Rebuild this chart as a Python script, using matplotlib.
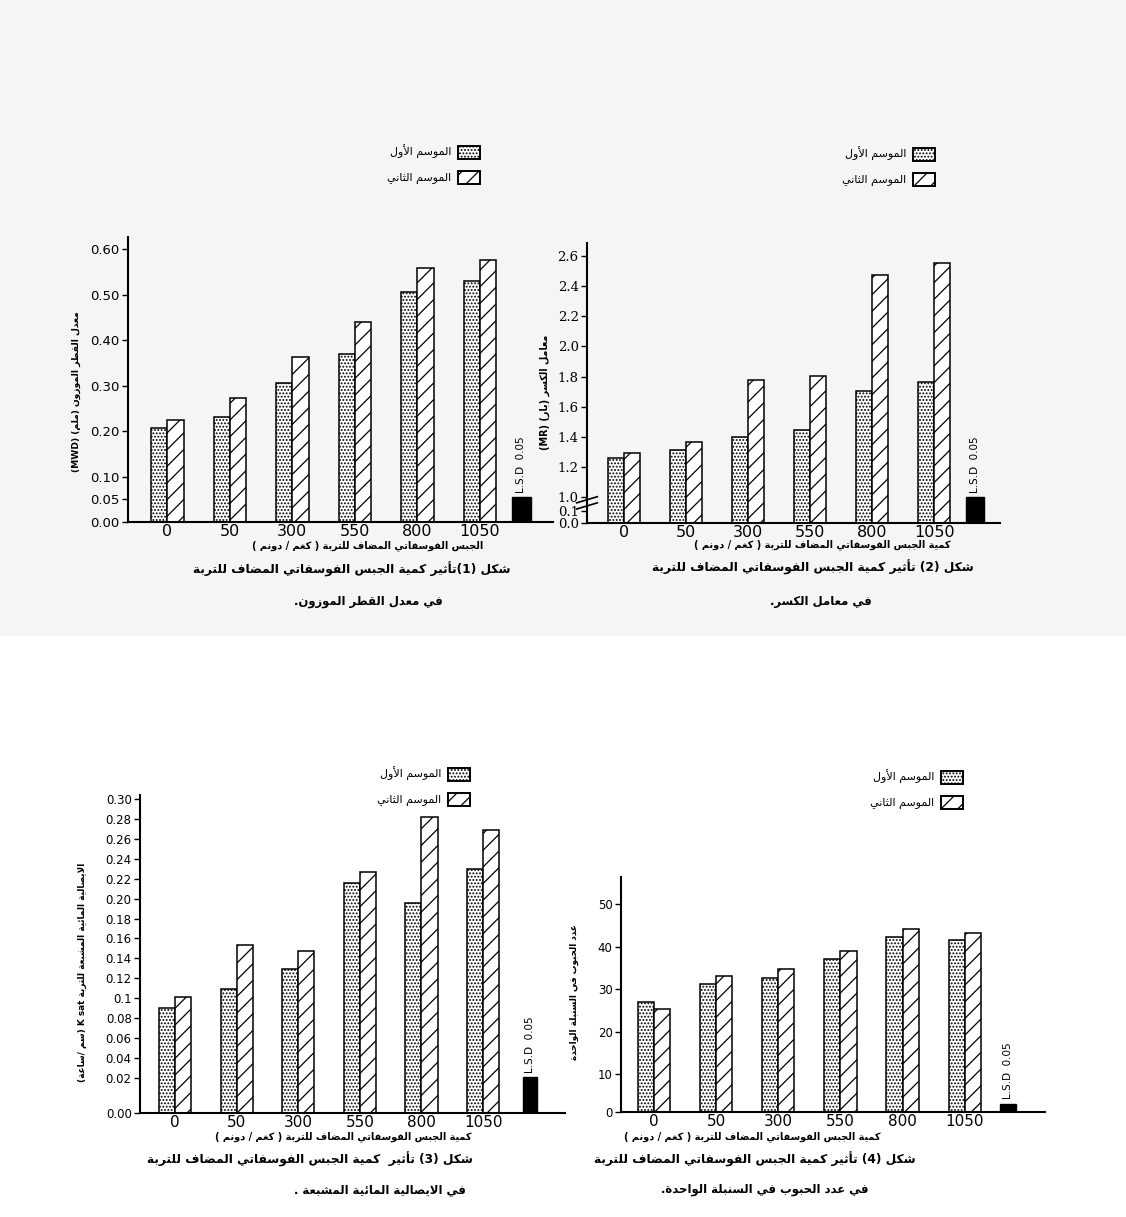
import re
import numpy as np
import matplotlib
matplotlib.use('Agg')
import matplotlib.pyplot as plt
from matplotlib.patches import Patch, Rectangle

# ---- data ----
doses = ['0', '50', '300', '550', '800', '1050']

mwd_s1 = [0.207, 0.230, 0.305, 0.370, 0.505, 0.531]
mwd_s2 = [0.224, 0.272, 0.364, 0.440, 0.558, 0.576]
mwd_lsd = 0.055

mr_s1 = [1.26, 1.315, 1.40, 1.448, 1.705, 1.765]
mr_s2 = [1.29, 1.362, 1.776, 1.805, 2.474, 2.552]
mr_lsd = 1.0

ksat_s1 = [0.090, 0.109, 0.129, 0.216, 0.196, 0.230]
ksat_s2 = [0.101, 0.153, 0.147, 0.227, 0.282, 0.269]
ksat_lsd = 0.021

grains_s1 = [26.9, 31.3, 32.7, 37.1, 42.4, 41.5]
grains_s2 = [25.3, 33.2, 34.8, 39.0, 44.1, 43.2]
grains_lsd = 2.2

# ---- small arabic shaper (matplotlib has no bidi / joining) ----
_seq = [('ء', 1), ('آ', 2), ('أ', 2), ('ؤ', 2), ('إ', 2), ('ئ', 4), ('ا', 2), ('ب', 4),
        ('ة', 2), ('ت', 4), ('ث', 4), ('ج', 4), ('ح', 4), ('خ', 4), ('د', 2), ('ذ', 2),
        ('ر', 2), ('ز', 2), ('س', 4), ('ش', 4), ('ص', 4), ('ض', 4), ('ط', 4), ('ظ', 4),
        ('ع', 4), ('غ', 4), ('ف', 4), ('ق', 4), ('ك', 4), ('ل', 4), ('م', 4), ('ن', 4),
        ('ه', 4), ('و', 2), ('ى', 2), ('ي', 4)]
FORMS = {}
code = 0xFE80
for ch, n in _seq:
    FORMS[ch] = [chr(code + k) for k in range(n)]
    code += n
LAM_ALEF = {'آ': 0xFEF5, 'أ': 0xFEF7, 'إ': 0xFEF9, 'ا': 0xFEFB}
MIRROR = {'(': ')', ')': '('}


def shape(text):
    dual = lambda c: c in FORMS and len(FORMS[c]) == 4
    joins = lambda c: c in FORMS and len(FORMS[c]) >= 2
    out, i, prev = [], 0, False
    while i < len(text):
        c = text[i]
        nxt = text[i + 1] if i + 1 < len(text) else ''
        if c not in FORMS:
            out.append(c)
            prev = False
            i += 1
            continue
        if c == 'ل' and nxt in LAM_ALEF:
            out.append(chr(LAM_ALEF[nxt] + (1 if prev else 0)))
            prev = False
            i += 2
            continue
        f = FORMS[c]
        to_next = dual(c) and joins(nxt)
        if len(f) == 1:
            g = f[0]
        elif prev and to_next:
            g = f[3]
        elif prev:
            g = f[1]
        elif to_next:
            g = f[2]
        else:
            g = f[0]
        out.append(g)
        prev = dual(c)
        i += 1
    return ''.join(out)


def ar(text):
    s = shape(text)
    parts = re.findall(r'[A-Za-z0-9]+(?:[ .][A-Za-z0-9]+)*|[^A-Za-z0-9]+', s)
    out = []
    for p in reversed(parts):
        if re.match(r'[A-Za-z0-9]', p):
            out.append(p)
        else:
            out.append(''.join(MIRROR.get(c, c) for c in reversed(p)))
    return ''.join(out)


# ---- figure ----
W, H = 1126, 1217
fig = plt.figure(figsize=(W / 100, H / 100), dpi=100, facecolor='white')
fig.patches.append(Rectangle((0, 1 - 636 / H), 1, 636 / H, transform=fig.transFigure,
                             facecolor='#f5f5f5', edgecolor='none', zorder=-10))
plt.rcParams['hatch.linewidth'] = 0.9


def box(l, t, r, b):
    return [l / W, 1 - b / H, (r - l) / W, (b - t) / H]


def piecewise(ax, d, s):
    d = np.asarray(d, float)
    s = np.asarray(s, float)

    def make(a, b):
        def f(y):
            y = np.asarray(y, float)
            out = np.interp(y, a, b)
            out = np.where(y < a[0], b[0] + (y - a[0]) * (b[1] - b[0]) / (a[1] - a[0]), out)
            out = np.where(y > a[-1], b[-1] + (y - a[-1]) * (b[-1] - b[-2]) / (a[-1] - a[-2]), out)
            return out
        return f
    ax.set_yscale('function', functions=(make(d, s), make(s, d)))


bw = 0.26
season1 = ar('الموسم الأول')
season2 = ar('الموسم الثاني')


def panel(rect, s1, s2, lsd, lsd_x, lsd_w, xlim, ylim, yticks, ylabels,
          tick_size=9, tick_family='DejaVu Sans', xtick_size=11.5, scale=None):
    ax = fig.add_axes(box(*rect))
    ax.set_facecolor('none')
    if scale is not None:
        piecewise(ax, *scale)
    x = np.arange(len(doses))
    ax.bar(x - bw / 2, s1, bw, facecolor='white', edgecolor='black', hatch='.....', lw=1.1)
    ax.bar(x + bw / 2, s2, bw, facecolor='white', edgecolor='black', hatch='//', lw=1.1)
    ax.bar(lsd_x, lsd, lsd_w, facecolor='black', edgecolor='black')
    ax.annotate('L.S.D  0.05', (lsd_x, lsd), xytext=(0, 3), textcoords='offset points',
                rotation=90, ha='center', va='bottom', fontsize=7.5)
    ax.set_xlim(*xlim)
    ax.set_ylim(*ylim)
    ax.set_xticks(x, doses, fontsize=xtick_size)
    ax.tick_params(axis='x', length=0, pad=1.5)
    ax.set_yticks(yticks, ylabels)
    ax.tick_params(axis='y', direction='out', length=4, width=1, pad=2)
    for t in ax.get_yticklabels():
        t.set_fontsize(tick_size)
        t.set_family(tick_family)
    ax.minorticks_off()
    for sp in ['top', 'right']:
        ax.spines[sp].set_visible(False)
    for sp in ['left', 'bottom']:
        ax.spines[sp].set_linewidth(1.5)
    return ax


def legend(xr, yt):
    handles = [Patch(facecolor='white', edgecolor='black', hatch='.....', lw=1.4),
               Patch(facecolor='white', edgecolor='black', hatch='//', lw=1.4)]
    fig.legend(handles, [season1, season2], loc='upper right',
               bbox_to_anchor=(xr / W, 1 - yt / H), frameon=False, markerfirst=False,
               handlelength=2.0, handleheight=1.4, labelspacing=1.1, handletextpad=0.6,
               borderpad=0, borderaxespad=0, fontsize=8)


def caption(x, y, s, size, weight='bold', rot=0):
    fig.text(x / W, 1 - y / H, ar(s), fontsize=size, fontweight=weight,
             ha='center', va='center', rotation=rot)


xlab = 'كمية الجبس الفوسفاتي المضاف للتربة ( كغم / دونم )'
CAP1, CAP2, XL = 8.8, 8.4, 7.0

# Fig 1 : MWD
panel((128, 237, 553, 522), mwd_s1, mwd_s2, mwd_lsd, 5.66, 0.30, (-0.63, 6.17), (0, 0.627),
      [0, 0.05, 0.10, 0.20, 0.30, 0.40, 0.50, 0.60],
      ['0.00', '0.05', '0.10', '0.20', '0.30', '0.40', '0.50', '0.60'], tick_size=9.5)
legend(480, 145)
caption(76, 392, 'معدل القطر الموزون (ملم) (MWD)', 6.6, rot=90)
caption(368, 546, 'الجبس الفوسفاتي المضاف للتربة ( كغم / دونم )', XL)
caption(352, 569, 'شكل (1)تأثير كمية الجبس الفوسفاتي المضاف للتربة', CAP1)
caption(368, 601, 'في معدل القطر الموزون.', CAP2)

# Fig 2 : MR (broken axis)
ax2 = panel((587, 243, 1000, 523), mr_s1, mr_s2, mr_lsd, 5.65, 0.29, (-0.60, 6.06), (0, 2.687),
            [0.0, 0.1, 1.0, 1.2, 1.4, 1.6, 1.8, 2.0, 2.2, 2.4, 2.6],
            ['0.0', '0.1', '1.0', '1.2', '1.4', '1.6', '1.8', '2.0', '2.2', '2.4', '2.6'],
            tick_size=9.5, tick_family='DejaVu Serif',
            scale=([0, 0.1, 1.0, 3.0], [0, 11.7, 26, 26 + 2 * 150.4]))
for dy in (0.0, 0.022):
    ax2.plot([-0.025, 0.025], [0.050 + dy, 0.072 + dy], transform=ax2.transAxes,
             color='black', lw=1.2, clip_on=False)
legend(935, 147)
caption(545, 392, 'معامل الكسر (بار) (MR)', 6.9, rot=90)
caption(822, 545, xlab, XL)
caption(813, 567, 'شكل (2) تأثير كمية الجبس الفوسفاتي المضاف للتربة', CAP1)
caption(821, 601, 'في معامل الكسر.', CAP2)

# Fig 3 : Ksat
panel((140, 795, 565, 1113), ksat_s1, ksat_s2, ksat_lsd, 5.76, 0.23, (-0.57, 6.33), (0, 0.3043),
      [0, 0.02, 0.04, 0.06, 0.08, 0.10, 0.12, 0.14, 0.16, 0.18, 0.20, 0.22, 0.24, 0.26, 0.28, 0.30],
      ['0.00', '0.02', '0.04', '0.06', '0.08', '0.1', '0.12', '0.14', '0.16', '0.18', '0.20',
       '0.22', '0.24', '0.26', '0.28', '0.30'],
      tick_size=8.5, xtick_size=11, scale=([0, 0.02, 0.40], [0, 35.3, 35.3 + 0.38 * 994.3]))
legend(470, 767)
caption(82, 972, 'الايصالية المائية المشبعة للتربة K sat (سم /ساعة)', 6.4, rot=90)
caption(343, 1137, xlab, XL)
caption(310, 1159, 'شكل (3) تأثير  كمية الجبس الفوسفاتي المضاف للتربة', CAP1)
caption(380, 1190, 'في الايصالية المائية المشبعة .', CAP2)

# Fig 4 : grains per spike
panel((621, 877, 1045, 1112), grains_s1, grains_s2, grains_lsd, 5.69, 0.26, (-0.53, 6.29),
      (0, 56.46), [0, 10, 20, 30, 40, 50], ['0', '10', '20', '30', '40', '50'],
      tick_size=8.5, xtick_size=11, scale=([0, 10, 60], [0, 38, 38 + 50 * 4.24]))
legend(963, 770)
caption(574, 992, 'عدد الحبوب في السنبلة الواحدة', 6.4, rot=90)
caption(752, 1137, xlab, XL)
caption(755, 1159, 'شكل (4) تأثير كمية الجبس الفوسفاتي المضاف للتربة', CAP1)
caption(765, 1190, 'في عدد الحبوب في السنبلة الواحدة.', CAP2)

fig.savefig('out.png', dpi=100)
